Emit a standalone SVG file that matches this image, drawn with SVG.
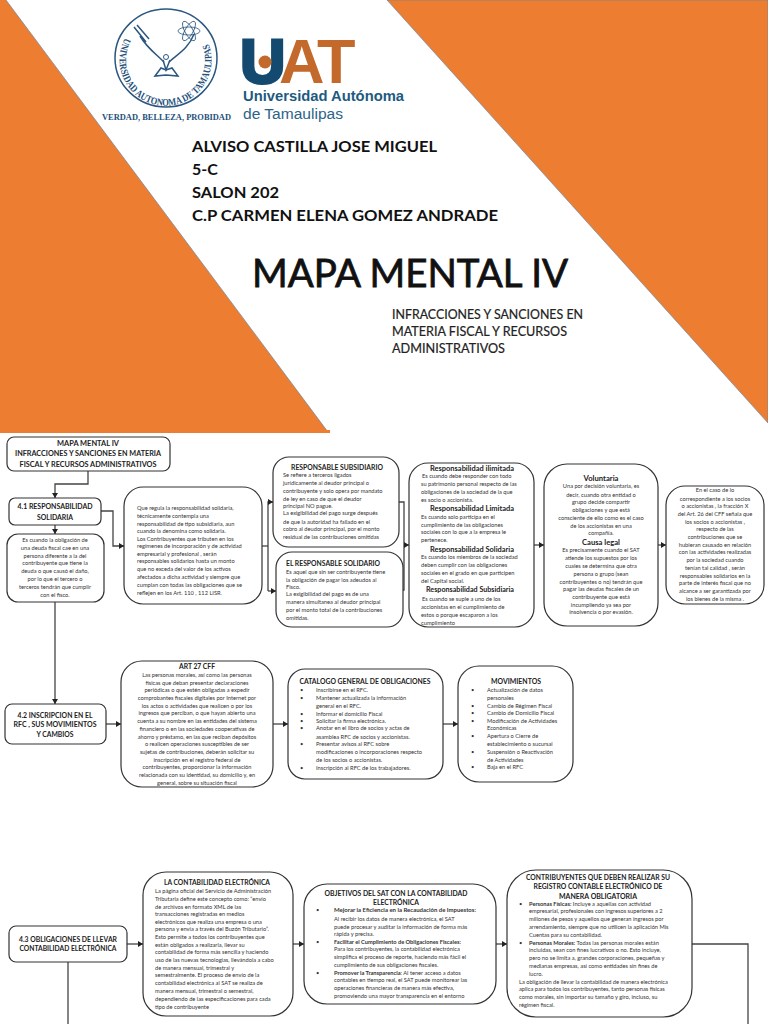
<svg xmlns="http://www.w3.org/2000/svg" width="768" height="1024" viewBox="0 0 768 1024">
<style>
text{font-family:Lato,"Liberation Sans",sans-serif;fill:#333}
.b{font-size:5.7px}
.c{text-anchor:middle}
.h{font-weight:700;font-size:7.2px;fill:#222}
.h2{font-weight:700;font-size:7.6px;fill:#222;text-anchor:middle}
.bb{font-weight:700}
.box{fill:#fff;stroke:#333;stroke-width:1.2}
.con{fill:none;stroke:#444;stroke-width:1.3}
.top{font-weight:700;font-size:16px;fill:#111}
.sub{font-size:13px;fill:#222;stroke:#222;stroke-width:.2}
.o{fill:#ed7d31;stroke:#6f86a0;stroke-width:.7}
.em{fill:none;stroke:#2a5680;stroke-width:1.5}
</style>
<defs>
<marker id="ah" markerUnits="userSpaceOnUse" markerWidth="6" markerHeight="6" refX="5" refY="3" orient="auto"><path d="M0 0L5 3L0 6Z" fill="#222"/></marker>
<path id="sealArc" d="M125 38A46 46 0 1 0 207 40"/>
</defs>
<rect width="768" height="1024" fill="#fff"/>
<g id="cover">
<polygon points="0,0 6,0 328,432 0,432" fill="#ed7d31"/>
<path d="M6 0L328 432" fill="none" stroke="#6f86a0" stroke-width=".7"/>
<polygon class="o" points="387,0 768,0 768,423"/>
<rect x="0" y="430" width="330" height="3" fill="#ed7d31"/>
<g id="seal">
<ellipse cx="166" cy="58" rx="51" ry="49" fill="#fff" stroke="#2a5680" stroke-width="1.5"/>
<text style="font-family:'Liberation Serif',serif;font-size:10px;font-weight:700;fill:#24507a"><textPath href="#sealArc" textLength="183" lengthAdjust="spacingAndGlyphs">UNIVERSIDAD AUTONOMA DE TAMAULIPAS</textPath></text>
<path class="em" d="M140 36C147 48 156 54 164 62M194 34C189 48 178 54 169 62M134 27L146 42M137 25L149 39"/>
<circle cx="166" cy="57" r="2.5" fill="#fff" stroke="#2a5680"/>
<path class="em" d="M163 60L166 70L170 60"/>
<path class="em" d="M155 76L161 68L166 70L172 68L178 76L166 75Z"/>
<ellipse class="em" cx="189" cy="31" rx="11" ry="4" style="stroke-width:.8"/>
<ellipse class="em" cx="189" cy="31" rx="11" ry="4" style="stroke-width:.8" transform="rotate(60 189 31)"/>
<ellipse class="em" cx="189" cy="31" rx="11" ry="4" style="stroke-width:.8" transform="rotate(120 189 31)"/>
<text x="102" y="120" textLength="129" lengthAdjust="spacingAndGlyphs" style="font-family:'Liberation Serif',serif;font-size:8.2px;font-weight:700;fill:#24507a">VERDAD, BELLEZA, PROBIDAD</text>
</g>
<g id="uat">
<text y="83" x="240 279 317" style="font-family:'Liberation Sans',sans-serif;font-size:63px;font-weight:700;fill:#c4692c"><tspan style="fill:#144a70;stroke:#144a70;stroke-width:3">U</tspan>AT</text>
<circle cx="265" cy="62" r="6.5" fill="#c4692c"/>
<text x="243" y="101" textLength="161" lengthAdjust="spacingAndGlyphs" style="font-family:'Liberation Sans',sans-serif;font-size:15.5px;font-weight:700;fill:#1e5a80">Universidad Autónoma</text>
<text x="243" y="119" textLength="100" lengthAdjust="spacingAndGlyphs" style="font-family:'Liberation Sans',sans-serif;font-size:15.5px;fill:#2a6488">de Tamaulipas</text>
</g>
<text class="top" x="192" y="152" textLength="245" lengthAdjust="spacingAndGlyphs">ALVISO CASTILLA JOSE MIGUEL</text>
<text class="top" x="192" y="175">5-C</text>
<text class="top" x="192" y="198" textLength="87" lengthAdjust="spacingAndGlyphs">SALON 202</text>
<text class="top" x="192" y="221" textLength="306" lengthAdjust="spacingAndGlyphs">C.P CARMEN ELENA GOMEZ ANDRADE</text>
<text x="252" y="287" textLength="316" lengthAdjust="spacingAndGlyphs" style="font-size:38px;fill:#111;stroke:#111;stroke-width:.8">MAPA MENTAL IV</text>
<text class="sub" x="392" y="319" textLength="191" lengthAdjust="spacingAndGlyphs">INFRACCIONES Y SANCIONES EN</text>
<text class="sub" x="392" y="336" textLength="175" lengthAdjust="spacingAndGlyphs">MATERIA FISCAL Y RECURSOS</text>
<text class="sub" x="392" y="353" textLength="113" lengthAdjust="spacingAndGlyphs">ADMINISTRATIVOS</text>
</g>
<g id="connectors">
<path class="con" marker-end="url(#ah)" d="M88 471V484H55V498"/>
<path class="con" marker-end="url(#ah)" d="M55 525V534"/>
<path class="con" marker-end="url(#ah)" d="M55 602V704"/>
<path class="con" marker-end="url(#ah)" d="M101 511H113V546H124"/>
<path class="con" d="M262 546H268"/>
<path class="con" marker-end="url(#ah)" d="M268 591V502H273"/>
<path class="con" marker-end="url(#ah)" d="M268 591H276"/>
<path class="con" d="M399 502H404V590H403"/>
<path class="con" marker-end="url(#ah)" d="M404 545H409"/>
<path class="con" marker-end="url(#ah)" d="M534 545H544"/>
<path class="con" marker-end="url(#ah)" d="M658 545H666"/>
<path class="con" marker-end="url(#ah)" d="M106 724H121"/>
<path class="con" marker-end="url(#ah)" d="M273 724H288"/>
<path class="con" marker-end="url(#ah)" d="M443 724H458"/>
<path class="con" marker-end="url(#ah)" d="M127 944H143"/>
<path class="con" marker-end="url(#ah)" d="M293 944H304"/>
<path class="con" marker-end="url(#ah)" d="M496 944H507"/>
<path class="con" d="M692 944H748V1024"/>
<path class="con" d="M68 962V1024"/>
</g>
<g id="n-root"><rect class="box" x="7" y="437" width="163" height="34" rx="7"/>
<text class="h2" x="88" y="446" textLength="62" lengthAdjust="spacingAndGlyphs">MAPA MENTAL IV</text>
<text class="h2" x="88" y="456" textLength="146" lengthAdjust="spacingAndGlyphs">INFRACCIONES Y SANCIONES EN MATERIA</text>
<text class="h2" x="88" y="467" textLength="137" lengthAdjust="spacingAndGlyphs">FISCAL Y RECURSOS ADMINISTRATIVOS</text></g>
<g id="n-41"><rect class="box" x="9" y="498" width="92" height="27" rx="6"/>
<text class="h2" x="55" y="509" textLength="75" lengthAdjust="spacingAndGlyphs">4.1 RESPONSABILIDAD</text>
<text class="h2" x="55" y="520" textLength="36" lengthAdjust="spacingAndGlyphs">SOLIDARIA</text></g>
<g id="n-41-def"><rect class="box" x="7" y="534" width="97" height="68" rx="11"/>
<text class="b c" x="55" y="542">Es cuando la obligación de</text>
<text class="b c" x="55" y="550">una deuda fiscal cae en una</text>
<text class="b c" x="55" y="558">persona diferente a la del</text>
<text class="b c" x="55" y="565">contribuyente que tiene la</text>
<text class="b c" x="55" y="573">deuda o que causó el daño,</text>
<text class="b c" x="55" y="581">por lo que el tercero o</text>
<text class="b c" x="55" y="589">terceros tendrán que cumplir</text>
<text class="b c" x="55" y="597">con el fisco.</text></g>
<g id="n-regula"><rect class="box" x="124" y="487" width="138" height="117" rx="19"/>
<text class="b" x="137" y="510">Que regula la responsabilidad solidaria,</text>
<text class="b" x="137" y="518">técnicamente contempla una</text>
<text class="b" x="137" y="526">responsabilidad de tipo subsidiaria, aun</text>
<text class="b" x="137" y="533">cuando la denomina como solidaria.</text>
<text class="b" x="137" y="541">Los Contribuyentes que tributen en los</text>
<text class="b" x="137" y="548">regímenes de incorporación y de actividad</text>
<text class="b" x="137" y="556">empresarial y profesional , serán</text>
<text class="b" x="137" y="563">responsables solidarios hasta un monto</text>
<text class="b" x="137" y="571">que no exceda del valor de los activos</text>
<text class="b" x="137" y="579">afectados a dicha actividad y siempre que</text>
<text class="b" x="137" y="587">cumplan con todas las obligaciones que se</text>
<text class="b" x="137" y="595">reflejen en los Art. 110 , 112 LISR.</text></g>
<g id="n-subsidiario"><rect class="box" x="273" y="457" width="126" height="90" rx="16"/>
<text class="h2" x="337" y="469.5" textLength="92" lengthAdjust="spacingAndGlyphs">RESPONSABLE SUBSIDIARIO</text>
<text class="b" x="283" y="477.3">Se refiere a terceros ligados</text>
<text class="b" x="283" y="485.3">jurídicamente al deudor principal o</text>
<text class="b" x="283" y="492.7">contribuyente y solo opera por mandato</text>
<text class="b" x="283" y="500.7">de ley en caso de que el deudor</text>
<text class="b" x="283" y="508">principal NO pague.</text>
<text class="b" x="283" y="515.3">La exigibilidad del pago surge después</text>
<text class="b" x="283" y="523.7">de que la autoridad ha fallado en el</text>
<text class="b" x="283" y="531.3">cobro al deudor principal, por el monto</text>
<text class="b" x="283" y="539.3">residual de las contribuciones omitidas</text></g>
<g id="n-solidario"><rect class="box" x="276" y="552" width="127" height="75" rx="16"/>
<text class="h" x="286" y="565.5" textLength="94" lengthAdjust="spacingAndGlyphs">EL RESPONSABLE SOLIDARIO</text>
<text class="b" x="286" y="573.7">Es aquel que sin ser contribuyente tiene</text>
<text class="b" x="286" y="581.7">la obligación de pagar los adeudos al</text>
<text class="b" x="286" y="589">Fisco.</text>
<text class="b" x="286" y="596.3">La exigibilidad del pago es de una</text>
<text class="b" x="286" y="604">manera simultanea al deudor principal</text>
<text class="b" x="286" y="612.3">por el monto total de la contribuciones</text>
<text class="b" x="286" y="620.3">omitidas.</text></g>
<g id="n-tipos"><rect class="box" x="409" y="463" width="125" height="164" rx="19"/>
<text class="h2" x="472" y="470.5" textLength="84" lengthAdjust="spacingAndGlyphs">Responsabilidad ilimitada</text>
<text class="b" x="422" y="478.3">Es cuando debe responder con todo</text>
<text class="b" x="421" y="486.3">su patrimonio personal respecto de las</text>
<text class="b" x="421" y="494">obligaciones de la sociedad de la que</text>
<text class="b" x="421" y="501.7">es socio o accionista.</text>
<text class="h2" x="472" y="511" textLength="84" lengthAdjust="spacingAndGlyphs">Responsabilidad Limitada</text>
<text class="b" x="421" y="519">Es cuando solo participa en el</text>
<text class="b" x="421" y="527">cumplimiento de las obligaciones</text>
<text class="b" x="421" y="534.3">sociales con lo que a la empresa le</text>
<text class="b" x="421" y="542">pertenece.</text>
<text class="h2" x="472" y="551.5" textLength="84" lengthAdjust="spacingAndGlyphs">Responsabilidad Solidaria</text>
<text class="b" x="421" y="559.3">Es cuando los miembros de la sociedad</text>
<text class="b" x="421" y="567.3">deben cumplir con las obligaciones</text>
<text class="b" x="421" y="574.7">sociales en el grado en que participen</text>
<text class="b" x="421" y="582.7">del Capital social.</text>
<text class="h2" x="470" y="592" textLength="88" lengthAdjust="spacingAndGlyphs">Responsabilidad Subsidiaria</text>
<text class="b" x="422" y="600.7">Es cuando se suple a uno de los</text>
<text class="b" x="421" y="609">accionistas en el cumplimiento de</text>
<text class="b" x="421" y="617">estos o porque escaparon a los</text>
<text class="b" x="421" y="625">cumplimiento</text></g>
<g id="n-voluntaria"><rect class="box" x="544" y="464" width="114" height="162" rx="23"/>
<text class="h2" x="601" y="480.7" textLength="35" lengthAdjust="spacingAndGlyphs">Voluntaria</text>
<text class="b c" x="601" y="488.3">Una por decisión voluntaria, es</text>
<text class="b c" x="601" y="496.7">decir, cuando otra entidad o</text>
<text class="b c" x="601" y="504.3">grupo decide compartir</text>
<text class="b c" x="601" y="512">obligaciones y que está</text>
<text class="b c" x="601" y="519.7">consciente de ello como es el caso</text>
<text class="b c" x="601" y="527.7">de los accionistas en una</text>
<text class="b c" x="601" y="535.3">compañía.</text>
<text class="h2" x="601" y="544.5" textLength="38" lengthAdjust="spacingAndGlyphs">Causa legal</text>
<text class="b c" x="601" y="552.3">Es precisamente cuando el SAT</text>
<text class="b c" x="601" y="560.3">atiende los supuestos por los</text>
<text class="b c" x="601" y="568">cuales se determina que otra</text>
<text class="b c" x="601" y="576">persona o grupo (sean</text>
<text class="b c" x="601" y="583.7">contribuyentes o no) tendrán que</text>
<text class="b c" x="601" y="591.3">pagar las deudas fiscales de un</text>
<text class="b c" x="601" y="599">contribuyente que está</text>
<text class="b c" x="601" y="606.7">incumpliendo ya sea por</text>
<text class="b c" x="601" y="614.3">insolvencia o por evasión.</text></g>
<g id="n-art26"><rect class="box" x="666" y="486" width="98" height="118" rx="19"/>
<text class="b c" x="715" y="492.3">En el caso de lo</text>
<text class="b c" x="715" y="500.7">correspondiente a los socios</text>
<text class="b c" x="715" y="508">o accionistas , la fracción X</text>
<text class="b c" x="715" y="515.7">del Art. 26 del CFF señala que</text>
<text class="b c" x="715" y="523.7">los socios o accionistas ,</text>
<text class="b c" x="715" y="531.3">respecto de las</text>
<text class="b c" x="715" y="539.3">contribuciones que se</text>
<text class="b c" x="715" y="546.7">hubieran causado en relación</text>
<text class="b c" x="715" y="554.3">con las actividades realizadas</text>
<text class="b c" x="715" y="562.3">por la sociedad cuando</text>
<text class="b c" x="715" y="569.7">tenían tal calidad , serán</text>
<text class="b c" x="715" y="577.7">responsables solidarios en la</text>
<text class="b c" x="715" y="585.3">parte de interés fiscal que no</text>
<text class="b c" x="715" y="593.3">alcance a ser garantizada por</text>
<text class="b c" x="715" y="601">los bienes de la misma .</text></g>
<g id="n-42"><rect class="box" x="5" y="704" width="101" height="40" rx="7"/>
<text class="h2" x="55" y="718" textLength="75" lengthAdjust="spacingAndGlyphs">4.2 INSCRIPCION EN EL</text>
<text class="h2" x="55" y="727" textLength="83" lengthAdjust="spacingAndGlyphs">RFC , SUS MOVIMIENTOS</text>
<text class="h2" x="55" y="737" textLength="37" lengthAdjust="spacingAndGlyphs">Y CAMBIOS</text></g>
<g id="n-art27"><rect class="box" x="121" y="661" width="152" height="126" rx="21"/>
<text class="h2" x="197" y="668.5" textLength="36" lengthAdjust="spacingAndGlyphs">ART 27 CFF</text>
<text class="b c" x="197" y="676.7">Las personas morales, así como las personas</text>
<text class="b c" x="197" y="684.7">físicas que deban presentar declaraciones</text>
<text class="b c" x="197" y="692">periódicas o que estén obligadas a expedir</text>
<text class="b c" x="197" y="700">comprobantes fiscales digitales por Internet por</text>
<text class="b c" x="197" y="708">los actos o actividades que realicen o por los</text>
<text class="b c" x="197" y="715.3">ingresos que perciban, o que hayan abierto una</text>
<text class="b c" x="197" y="723.3">cuenta a su nombre en las entidades del sistema</text>
<text class="b c" x="197" y="730.7">financiero o en las sociedades cooperativas de</text>
<text class="b c" x="197" y="738.7">ahorro y préstamo, en las que reciban depósitos</text>
<text class="b c" x="197" y="746.3">o realicen operaciones susceptibles de ser</text>
<text class="b c" x="197" y="754">sujetas de contribuciones, deberán solicitar su</text>
<text class="b c" x="197" y="761.7">inscripción en el registro federal de</text>
<text class="b c" x="197" y="769">contribuyentes, proporcionar la información</text>
<text class="b c" x="197" y="776.7">relacionada con su identidad, su domicilio y, en</text>
<text class="b c" x="197" y="785">general, sobre su situación fiscal</text></g>
<g id="n-catalogo"><rect class="box" x="288" y="669" width="155" height="110" rx="17"/>
<text class="h2" x="365" y="684.2" textLength="131" lengthAdjust="spacingAndGlyphs">CATALOGO GENERAL DE OBLIGACIONES</text>
<text class="b" x="300" y="692">•</text><text class="b" x="316" y="692">Inscribirse en el RFC.</text>
<text class="b" x="300" y="700">•</text><text class="b" x="316" y="700">Mantener actualizada la información</text>
<text class="b" x="316" y="708">general en el RFC.</text>
<text class="b" x="300" y="715.7">•</text><text class="b" x="316" y="715.7">Informar el domicilio Fiscal</text>
<text class="b" x="300" y="723.3">•</text><text class="b" x="316" y="723.3">Solicitar la firma electrónica.</text>
<text class="b" x="300" y="730.3">•</text><text class="b" x="316" y="730.3">Anotar en el libro de socios y actas de</text>
<text class="b" x="316" y="738.7">asamblea RFC de socios y accionistas.</text>
<text class="b" x="300" y="746.3">•</text><text class="b" x="316" y="746.3">Presentar avisos al RFC sobre</text>
<text class="b" x="316" y="754">modificaciones o incorporaciones respecto</text>
<text class="b" x="316" y="762">de los socios o accionistas.</text>
<text class="b" x="300" y="769.7">•</text><text class="b" x="316" y="769.7">Inscripción al RFC de los trabajadores.</text></g>
<g id="n-movimientos"><rect class="box" x="458" y="666" width="115" height="116" rx="21"/>
<text class="h2" x="516" y="683.5" textLength="50" lengthAdjust="spacingAndGlyphs">MOVIMIENTOS</text>
<text class="b" x="471" y="692">•</text><text class="b" x="487" y="692">Actualización de datos</text>
<text class="b" x="487" y="700">personales</text>
<text class="b" x="471" y="708">•</text><text class="b" x="487" y="708">Cambio de Régimen Fiscal</text>
<text class="b" x="471" y="715.3">•</text><text class="b" x="487" y="715.3">Cambio de Domicilio Fiscal</text>
<text class="b" x="471" y="723">•</text><text class="b" x="487" y="723">Modificación de Actividades</text>
<text class="b" x="487" y="730.3">Económicas</text>
<text class="b" x="471" y="738.3">•</text><text class="b" x="487" y="738.3">Apertura o Cierre de</text>
<text class="b" x="487" y="746.3">establecimiento o sucursal</text>
<text class="b" x="471" y="754">•</text><text class="b" x="487" y="754">Suspensión o Reactivación</text>
<text class="b" x="487" y="762">de Actividades</text>
<text class="b" x="471" y="769">•</text><text class="b" x="487" y="769">Baja en el RFC</text></g>
<g id="n-43"><rect class="box" x="9" y="926" width="118" height="36" rx="7"/>
<text class="h2" x="68" y="942" textLength="98" lengthAdjust="spacingAndGlyphs">4.3 OBLIGACIONES DE LLEVAR</text>
<text class="h2" x="68" y="951" textLength="97" lengthAdjust="spacingAndGlyphs">CONTABILIDAD ELECTRÓNICA</text></g>
<g id="n-contabilidad"><rect class="box" x="143" y="872" width="150" height="144" rx="23"/>
<text class="h2" x="217" y="884.5" textLength="106" lengthAdjust="spacingAndGlyphs">LA CONTABILIDAD ELECTRÓNICA</text>
<text class="b" x="155" y="892.7">La página oficial del Servicio de Administración</text>
<text class="b" x="155" y="900.7">Tributaria define este concepto como: “envío</text>
<text class="b" x="155" y="908.7">de archivos en formato XML de las</text>
<text class="b" x="155" y="916">transacciones registradas en medios</text>
<text class="b" x="155" y="923.7">electrónicos que realiza una empresa o una</text>
<text class="b" x="155" y="931.3">persona y envía a través del Buzón Tributario”.</text>
<text class="b" x="155" y="939">Esto permite a todos los contribuyentes que</text>
<text class="b" x="155" y="947">están obligados a realizarla, llevar su</text>
<text class="b" x="155" y="954.3">contabilidad de forma más sencilla y haciendo</text>
<text class="b" x="155" y="962">uso de las nuevas tecnologías, llevándola a cabo</text>
<text class="b" x="155" y="969.7">de manera mensual, trimestral y</text>
<text class="b" x="155" y="977">semestralmente. El proceso de envío de la</text>
<text class="b" x="155" y="985.3">contabilidad electrónica al SAT se realiza de</text>
<text class="b" x="155" y="993">manera mensual, trimestral o semestral,</text>
<text class="b" x="155" y="1000.7">dependiendo de las especificaciones para cada</text>
<text class="b" x="155" y="1009">tipo de contribuyente</text></g>
<g id="n-objetivos"><rect class="box" x="304" y="884" width="192" height="120" rx="23"/>
<text class="h2" x="396" y="895.5" textLength="143" lengthAdjust="spacingAndGlyphs">OBJETIVOS DEL SAT CON LA CONTABILIDAD</text>
<text class="h2" x="396" y="904.5" textLength="46" lengthAdjust="spacingAndGlyphs">ELECTRÓNICA</text>
<text class="b" x="316" y="912.3">•</text><text class="b bb" x="334" y="912.3" textLength="142" lengthAdjust="spacingAndGlyphs">Mejorar la Eficiencia en la Recaudación de Impuestos:</text>
<text class="b" x="334" y="920.7">Al recibir los datos de manera electrónica, el SAT</text>
<text class="b" x="334" y="928.7">puede procesar y auditar la información de forma más</text>
<text class="b" x="334" y="936.3">rápida y precisa.</text>
<text class="b" x="316" y="944">•</text><text class="b bb" x="334" y="944">Facilitar el Cumplimiento de Obligaciones Fiscales:</text>
<text class="b" x="334" y="951.3">Para los contribuyentes, la contabilidad electrónica</text>
<text class="b" x="334" y="959.3">simplifica el proceso de reporte, haciendo más fácil el</text>
<text class="b" x="334" y="966.7">cumplimiento de sus obligaciones fiscales.</text>
<text class="b" x="316" y="974.7">•</text><text class="b" x="334" y="974.7"><tspan class="bb">Promover la Transparencia</tspan>: Al tener acceso a datos</text>
<text class="b" x="334" y="982.3">contables en tiempo real, el SAT puede monitorear las</text>
<text class="b" x="334" y="990.3">operaciones financieras de manera más efectiva,</text>
<text class="b" x="334" y="997.7">promoviendo una mayor transparencia en el entorno</text></g>
<g id="n-contribuyentes"><rect class="box" x="507" y="870" width="185" height="147" rx="29"/>
<text class="h2" x="598" y="880" textLength="144" lengthAdjust="spacingAndGlyphs">CONTRIBUYENTES QUE DEBEN REALIZAR SU</text>
<text class="h2" x="598" y="889" textLength="129" lengthAdjust="spacingAndGlyphs">REGISTRO CONTABLE ELECTRÓNICO DE</text>
<text class="h2" x="598" y="898.5" textLength="78" lengthAdjust="spacingAndGlyphs">MANERA OBLIGATORIA</text>
<text class="b" x="519" y="905.7">•</text><text class="b" x="529" y="905.7"><tspan class="bb">Personas Físicas:</tspan> Incluye a aquellas con actividad</text>
<text class="b" x="529" y="913">empresarial, profesionales con ingresos superiores a 2</text>
<text class="b" x="529" y="921.3">millones de pesos y aquellos que generan ingresos por</text>
<text class="b" x="529" y="929.3">arrendamiento, siempre que no utilicen la aplicación Mis</text>
<text class="b" x="529" y="936.7">Cuentas para su contabilidad.</text>
<text class="b" x="519" y="944.7">•</text><text class="b" x="529" y="944.7"><tspan class="bb">Personas Morales:</tspan> Todas las personas morales están</text>
<text class="b" x="529" y="952.3">incluidas, sean con fines lucrativos o no. Esto incluye,</text>
<text class="b" x="529" y="960.3">pero no se limita a, grandes corporaciones, pequeñas y</text>
<text class="b" x="529" y="968">medianas empresas, así como entidades sin fines de</text>
<text class="b" x="529" y="976">lucro.</text>
<text class="b" x="519" y="983.7">La obligación de llevar la contabilidad de manera electrónica</text>
<text class="b" x="519" y="991.3">aplica para todos los contribuyentes, tanto personas físicas</text>
<text class="b" x="519" y="999">como morales, sin importar su tamaño y giro, incluso, su</text>
<text class="b" x="519" y="1007">régimen fiscal.</text></g>
</svg>
